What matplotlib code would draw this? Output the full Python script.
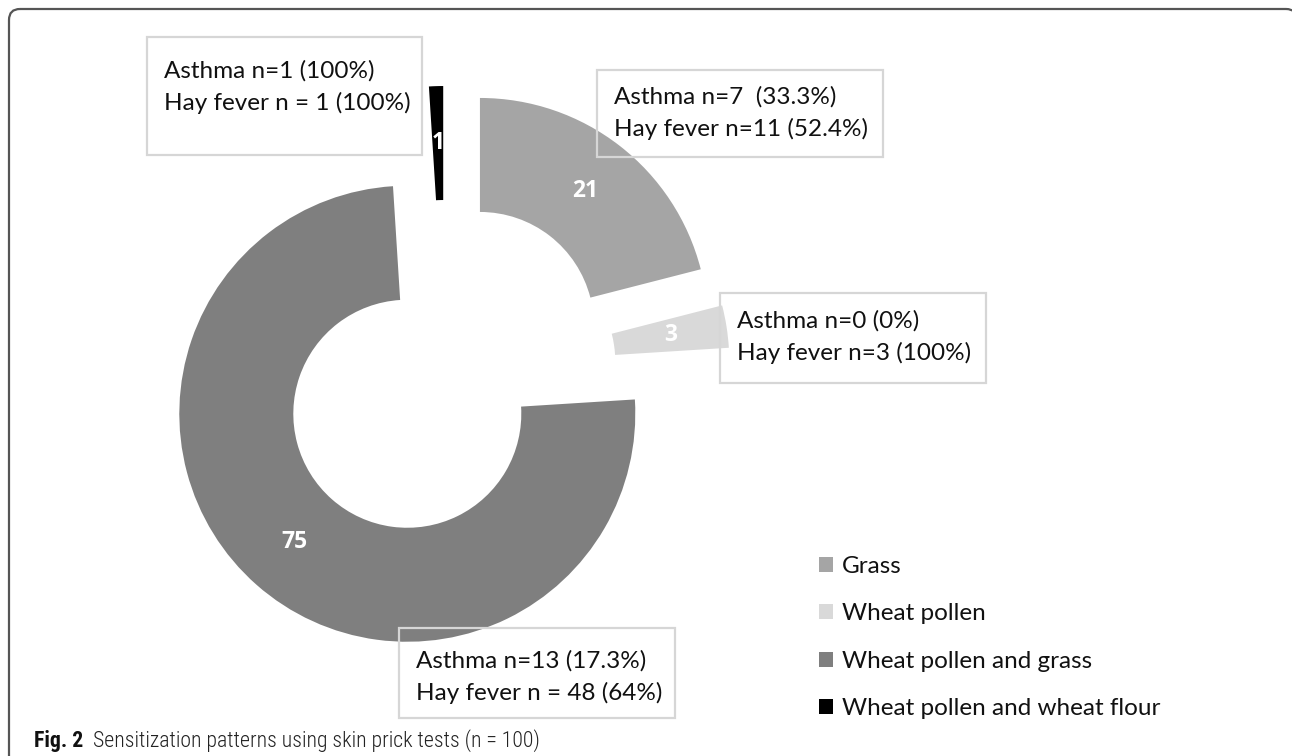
import matplotlib
matplotlib.use('Agg')
import matplotlib.pyplot as plt
from matplotlib.patches import Rectangle, FancyBboxPatch
from matplotlib import font_manager
from matplotlib.font_manager import FontProperties

# ---------------- data ----------------
categories = ['Grass', 'Wheat pollen', 'Wheat pollen and grass', 'Wheat pollen and wheat flour']
counts = [21, 3, 75, 1]
colors = ['#a5a5a5', '#d9d9d9', '#7f7f7f', '#000000']
asthma_lines = ['Asthma n=7  (33.3%)', 'Asthma n=0 (0%)', 'Asthma n=13 (17.3%)', 'Asthma n=1 (100%)']
hayfever_lines = ['Hay fever n=11 (52.4%)', 'Hay fever n=3 (100%)', 'Hay fever n = 48 (64%)', 'Hay fever n = 1 (100%)']
caption_bold = 'Fig. 2'
caption_text = 'Sensitization patterns using skin prick tests (n = 100)'

# ---------------- layout ----------------
W, H = 1292, 756
R = 228.0              # outer radius in px
CX, CY = 445.0, 371.0  # pie centre in px (from top-left)
# annotation boxes (x0, y0, x1, y1) and first-line y, in px, same order as categories
box_geom = [(597, 70, 883, 157), (720, 293, 986, 383), (399, 628, 675, 718), (147, 37, 422, 155)]
first_line_y = [97, 321, 661, 71]
text_x_pad = 17
line_gap = 32

fonts = font_manager.fontManager.ttflist
avail = {f.name for f in fonts}
main_font = 'Lato' if 'Lato' in avail else 'DejaVu Sans'


def weight_num(w):
    if isinstance(w, (int, float)):
        return w
    return {'ultralight': 200, 'light': 300, 'normal': 400, 'regular': 400, 'book': 400,
            'medium': 500, 'roman': 400, 'semibold': 600, 'demibold': 600, 'demi': 600,
            'bold': 700, 'heavy': 800, 'extra bold': 800, 'black': 900}.get(str(w).lower(), 400)


def font_file(name, target, min_w=0, max_w=1000):
    best, bestd = None, 1e9
    for f in fonts:
        if f.name == name and f.style == 'normal':
            wn = weight_num(f.weight)
            if wn < min_w or wn > max_w:
                continue
            d = abs(wn - target)
            if d < bestd:
                best, bestd = f.fname, d
    return best


bold_file = None
for cand in ['Open Sans', main_font, 'Noto Sans', 'Roboto', 'DejaVu Sans']:
    bold_file = font_file(cand, 700, min_w=650)
    if bold_file:
        break
num_prop = FontProperties(fname=bold_file, size=16.5) if bold_file else FontProperties(family='DejaVu Sans', weight='bold', size=15.5)

cap_font = main_font
for cand in ['Liberation Sans Narrow', 'Roboto Condensed', 'Open Sans Condensed']:
    if cand in avail:
        cap_font = cand
        break
cap_bold_file = font_file(cap_font, 700, min_w=600)
cap_light_file = font_file(cap_font, 330)
cap_size = 15.7
cap_bold_prop = FontProperties(fname=cap_bold_file, size=cap_size) if cap_bold_file else FontProperties(family=cap_font, weight='bold', size=cap_size)
cap_prop = FontProperties(fname=cap_light_file, size=cap_size) if cap_light_file else FontProperties(family=cap_font, size=cap_size)

fig = plt.figure(figsize=(W / 100, H / 100), dpi=100)

ax = fig.add_axes([0, 0, 1, 1])
total = sum(counts)
wedges, texts, autotexts = ax.pie(
    counts, colors=colors, startangle=90, counterclock=False, radius=1,
    explode=[0.25] * len(counts), wedgeprops=dict(width=0.5, linewidth=0),
    autopct=lambda p: f'{p * total / 100:.0f}', pctdistance=0.75,
    textprops=dict(color='white'))
for t in autotexts:
    t.set_fontproperties(num_prop)
ax.set_xlim(-CX / R, (W - CX) / R)
ax.set_ylim(-(H - CY) / R, CY / R)
ax.set_aspect('auto')
ax.axis('off')

ov = fig.add_axes([0, 0, 1, 1], facecolor='none')
ov.set_xlim(0, W)
ov.set_ylim(H, 0)
ov.axis('off')

# outer frame (right and bottom sides fall outside the canvas)
ov.add_patch(FancyBboxPatch((9, 9), 1288, 900, boxstyle='round,pad=0,rounding_size=11',
                            ec='#555555', fc='none', lw=1.6, clip_on=False))

for (x0, y0, x1, y1), ly, a, h in zip(box_geom, first_line_y, asthma_lines, hayfever_lines):
    ov.add_patch(Rectangle((x0, y0), x1 - x0, y1 - y0, fc='none', ec='#d6d6d6', lw=1.6))
    ov.text(x0 + text_x_pad, ly, a, fontsize=17.5, family=main_font,
            va='center', ha='left', color='#111111')
    ov.text(x0 + text_x_pad, ly + line_gap, h, fontsize=17.5, family=main_font,
            va='center', ha='left', color='#111111')

leg = ov.legend(wedges, categories, loc='upper left', bbox_to_anchor=(819, 556),
                bbox_transform=ov.transData, frameon=False,
                prop=dict(family=main_font, size=17.5), handlelength=0.58, handleheight=0.58,
                handletextpad=0.35, labelspacing=1.09, borderpad=0, borderaxespad=0)
for t in leg.get_texts():
    t.set_color('#111111')

t1 = ov.text(34, 741, caption_bold, fontproperties=cap_bold_prop,
             va='center', ha='left', color='#111111')
ov.annotate(caption_text, xy=(1, 0.5), xycoords=t1, xytext=(7, 0), textcoords='offset points',
            fontproperties=cap_prop, va='center', ha='left', color='#222222')

fig.savefig('out.png', dpi=100)
